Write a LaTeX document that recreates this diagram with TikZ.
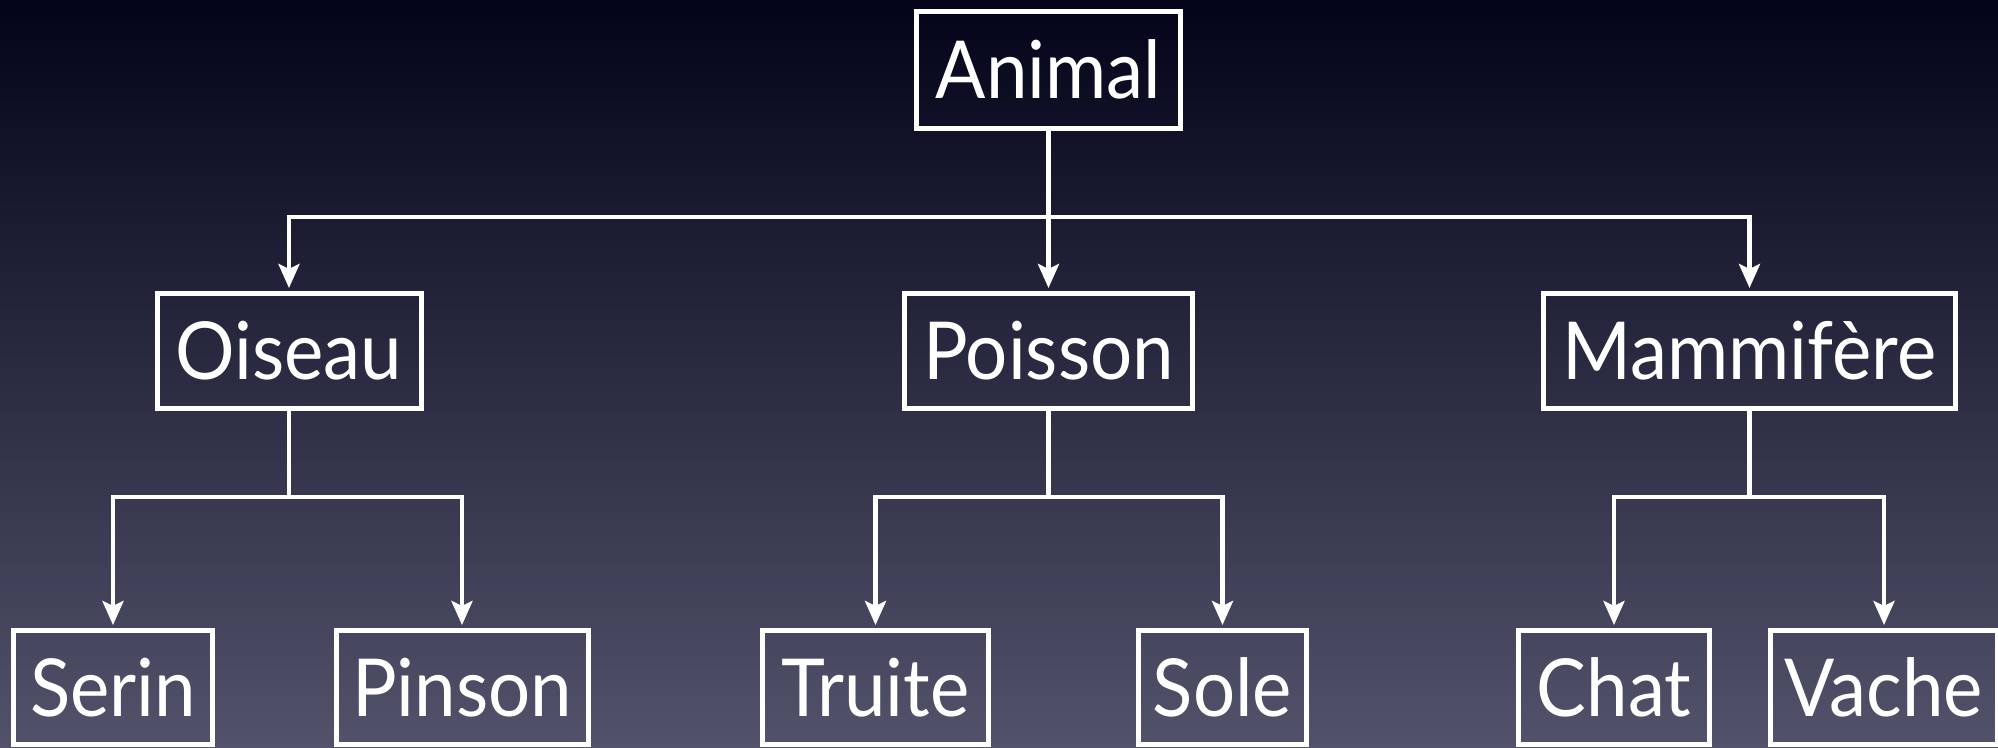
\documentclass[tikz,border=0pt]{standalone}
\usepackage{fontspec}
\setmainfont{Lato}[FakeStretch=0.93]
\usetikzlibrary{arrows.meta}
\definecolor{bgtop}{HTML}{03031A}
\definecolor{bgmid}{HTML}{2B2C43}
\definecolor{bgbot}{HTML}{52526A}
\tikzset{
  box/.style={draw=white, line width=2.5pt, text=white, inner sep=0pt,
    minimum height=57.5pt, font=\fontsize{40}{48}\selectfont,
    text height=28.7pt, text depth=0pt},
  link/.style={draw=white, line width=2.2pt},
  arr/.style={link, -{Stealth[length=12pt,width=10.5pt,inset=2.5pt]}, shorten >=1.5pt},
}
\begin{document}
\begin{tikzpicture}[x=0.5pt,y=-0.5pt]
\useasboundingbox (0,0) rectangle (1998,748);
\shade[top color=bgtop, middle color=bgmid, bottom color=bgbot] (0,0) rectangle (1998,748);

% level 0
\node[box, minimum width=132pt, minimum height=58.5pt] (animal) at (1048.5,70) {Animal};
% level 1
\node[box, minimum width=132pt] (oiseau) at (289,351) {Oiseau};
\node[box, minimum width=144pt] (poisson) at (1048.5,351) {Poisson};
\node[box, minimum width=206pt] (mammifere) at (1749.5,351) {Mammifère};
% level 2
\node[box, minimum width=99.5pt, minimum height=57pt] (serin) at (113,687.5) {Serin};
\node[box, minimum width=126pt, minimum height=57pt] (pinson) at (462,687.5) {Pinson};
\node[box, minimum width=113pt, minimum height=57pt] (truite) at (875.5,687.5) {Truite};
\node[box, minimum width=84pt, minimum height=57pt] (sole) at (1222.5,687.5) {Sole};
\node[box, minimum width=95.5pt, minimum height=57pt] (chat) at (1614,687.5) {Chat};
\node[box, minimum width=113.5pt, minimum height=57pt] (vache) at (1884,687.5) {Vache};

% junctions
\coordinate (j0) at (animal.south |- 0,217);
\coordinate (j1) at (oiseau.south |- 0,497);
\coordinate (j2) at (poisson.south |- 0,497);
\coordinate (j3) at (mammifere.south |- 0,497);

% connectors
\draw[arr] (animal.south) -- (poisson.north);
\draw[arr] (j0) -| (oiseau.north);
\draw[arr] (j0) -| (mammifere.north);

\draw[link] (oiseau.south) -- (j1);
\draw[arr] (j1) -| (serin.north);
\draw[arr] (j1) -| (pinson.north);

\draw[link] (poisson.south) -- (j2);
\draw[arr] (j2) -| (truite.north);
\draw[arr] (j2) -| (sole.north);

\draw[link] (mammifere.south) -- (j3);
\draw[arr] (j3) -| (chat.north);
\draw[arr] (j3) -| (vache.north);
\end{tikzpicture}
\end{document}
